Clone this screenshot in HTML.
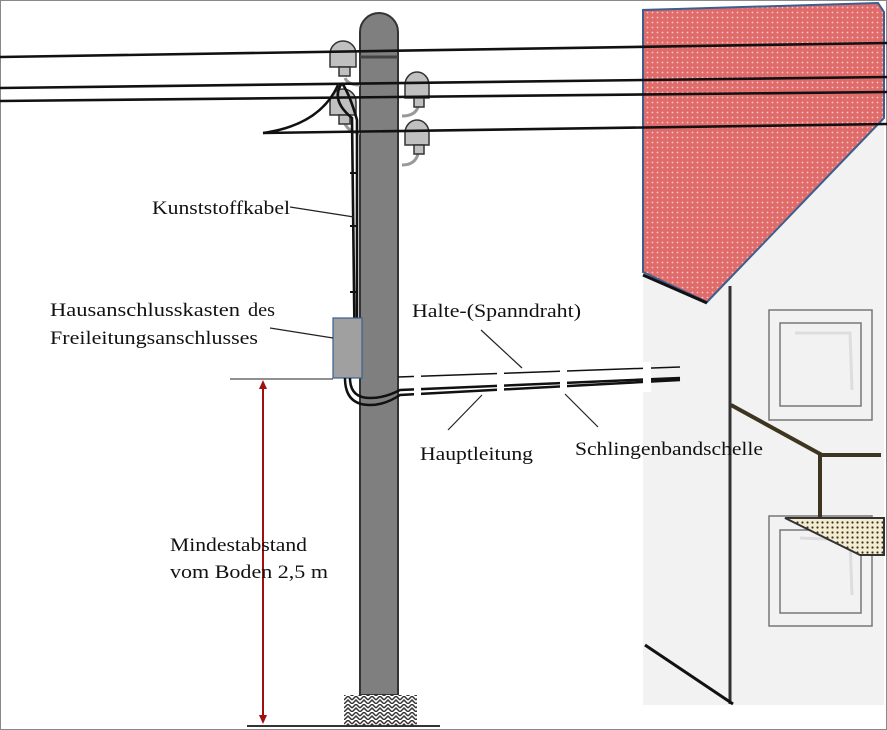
<!DOCTYPE html>
<html><head><meta charset="utf-8"><style>
html,body{margin:0;padding:0;background:#fff}
svg{display:block}
text{font-family:"Liberation Serif",serif;font-size:19px;fill:#111}
</style></head><body>
<svg width="887" height="730" viewBox="0 0 887 730" xmlns="http://www.w3.org/2000/svg">
<defs>
<pattern id="dots" width="5" height="5" patternUnits="userSpaceOnUse">
<rect width="5" height="5" fill="#e06b6b"/><circle cx="2.5" cy="2.5" r="0.9" fill="#f8c8c8"/>
</pattern>
<pattern id="sand" width="5" height="5" patternUnits="userSpaceOnUse">
<rect width="5" height="5" fill="#f4ecd0"/><circle cx="2.5" cy="2.5" r="1.1" fill="#3a3020"/>
</pattern>
<pattern id="hatch" width="8" height="8" patternUnits="userSpaceOnUse">
<rect width="8" height="8" fill="#fff"/><path d="M0 4 L4 0 L8 4 M0 8 L4 4 L8 8" stroke="#333" stroke-width="1.5" fill="none"/>
</pattern>
</defs>
<rect x="0.5" y="0.5" width="886" height="729" fill="#fff" stroke="#888"/>
<rect x="643" y="8" width="241" height="697" fill="#f2f2f2"/>
<polygon points="643,10 878,3 884,12 884,118 707,302 643,272" fill="url(#dots)" stroke="#3a5f8f" stroke-width="2"/>
<line x1="643" y1="275" x2="707" y2="303" stroke="#111" stroke-width="3"/>
<line x1="730" y1="286" x2="730" y2="704" stroke="#333" stroke-width="3"/>
<line x1="645" y1="645" x2="733" y2="704" stroke="#111" stroke-width="3"/>
<rect x="769" y="310" width="103" height="110" fill="none" stroke="#777" stroke-width="1.5"/>
<rect x="780" y="323" width="81" height="83" fill="none" stroke="#777" stroke-width="1.5"/>
<path d="M795 333 L850 333 L852 390" stroke="#ddd" stroke-width="3" fill="none"/>
<rect x="769" y="516" width="103" height="110" fill="none" stroke="#777" stroke-width="1.5"/>
<rect x="780" y="530" width="81" height="83" fill="none" stroke="#777" stroke-width="1.5"/>
<path d="M800 538 L850 540 L852 595" stroke="#ddd" stroke-width="3" fill="none"/>
<polyline points="731,405 822,455 881,455" fill="none" stroke="#3e3520" stroke-width="4"/>
<line x1="820" y1="455" x2="820" y2="519" stroke="#3e3520" stroke-width="4"/>
<polygon points="785,518 884,518 884,555 860,555" fill="url(#sand)" stroke="#333" stroke-width="2"/>
<path d="M360 695 L360 32 A19 19 0 0 1 398 32 L398 695 Z" fill="#7f7f7f" stroke="#333" stroke-width="2"/>
<line x1="360" y1="57" x2="398" y2="57" stroke="#444" stroke-width="3"/>
<rect x="344" y="695" width="73" height="31" fill="url(#hatch)"/>
<line x1="247" y1="726" x2="440" y2="726" stroke="#333" stroke-width="2"/>
<g fill="none" stroke="#999" stroke-width="3">
<path d="M345 78 Q348 85 360 85"/><path d="M345 124 Q350 133 360 133"/>
<path d="M418 107 Q415 116 402 116"/><path d="M418 154 Q415 165 402 165"/>
</g>
<g fill="#c0c0c0" stroke="#333" stroke-width="1.5">
<path d="M330 67 L330 54 A13 13 0 0 1 356 54 L356 67 Z"/><rect x="339" y="67" width="11" height="9"/>
<path d="M330 115 L330 102 A13 13 0 0 1 356 102 L356 115 Z"/><rect x="339" y="115" width="11" height="9"/>
<path d="M405 98 L405 85 A12 13 0 0 1 429 85 L429 98 Z"/><rect x="414" y="98" width="10" height="9"/>
<path d="M405 145 L405 133 A12 13 0 0 1 429 133 L429 145 Z"/><rect x="414" y="145" width="10" height="9"/>
</g>
<g stroke="#111" stroke-width="2.6" fill="none">
<line x1="0" y1="57" x2="887" y2="43"/>
<line x1="0" y1="88" x2="887" y2="77"/>
<line x1="0" y1="101" x2="887" y2="92"/>
<path d="M263 133 L330 132 L887 124"/>
<path d="M263 133 Q320 125 338 85"/>
<path d="M342 83 Q330 100 352 118 L355 375"/>
<path d="M342 83 Q350 95 357 120 L357 375"/>
</g>
<g stroke="#111" stroke-width="2">
<line x1="350" y1="173" x2="358" y2="173"/><line x1="350" y1="226" x2="358" y2="226"/><line x1="350" y1="292" x2="358" y2="292"/>
</g>
<rect x="333" y="318" width="29" height="60" fill="#a0a0a0" stroke="#3a5f8f" stroke-width="1.2"/>
<line x1="230" y1="379" x2="333" y2="379" stroke="#222" stroke-width="1"/>
<path d="M345 378 Q345 405 370 405 Q385 405 400 395 L680 380" fill="none" stroke="#111" stroke-width="2.5"/>
<path d="M350 378 Q350 398 370 398 Q385 398 400 390 L680 378" fill="none" stroke="#111" stroke-width="2.5"/>
<line x1="398" y1="377" x2="680" y2="367" stroke="#111" stroke-width="1.5"/>
<g fill="#fff"><rect x="414" y="368" width="7" height="30"/><rect x="497" y="366" width="7" height="30"/><rect x="560" y="364" width="7" height="30"/><rect x="643" y="362" width="8" height="30"/></g>
<g stroke="#222" stroke-width="1.2">
<line x1="290" y1="207" x2="354" y2="217"/>
<line x1="270" y1="328" x2="333" y2="338"/>
<line x1="481" y1="330" x2="522" y2="368"/>
<line x1="448" y1="430" x2="482" y2="395"/>
<line x1="565" y1="394" x2="598" y2="427"/>
</g>
<line x1="263" y1="386" x2="263" y2="719" stroke="#a01010" stroke-width="2"/>
<polygon points="263,380 259,389 267,389" fill="#a01010"/>
<polygon points="263,724 259,715 267,715" fill="#a01010"/>
<text x="152" y="214" textLength="138" lengthAdjust="spacingAndGlyphs">Kunststoffkabel</text>
<text x="50" y="316" textLength="190" lengthAdjust="spacingAndGlyphs">Hausanschlusskasten</text>
<text x="248" y="316" textLength="27" lengthAdjust="spacingAndGlyphs">des</text>
<text x="50" y="344" textLength="208" lengthAdjust="spacingAndGlyphs">Freileitungsanschlusses</text>
<text x="412" y="317" textLength="169" lengthAdjust="spacingAndGlyphs">Halte-(Spanndraht)</text>
<text x="420" y="460" textLength="113" lengthAdjust="spacingAndGlyphs">Hauptleitung</text>
<text x="575" y="455" textLength="188" lengthAdjust="spacingAndGlyphs">Schlingenbandschelle</text>
<text x="170" y="551" textLength="137" lengthAdjust="spacingAndGlyphs">Mindestabstand</text>
<text x="170" y="578" textLength="158" lengthAdjust="spacingAndGlyphs">vom Boden 2,5 m</text>
</svg>
</body></html>
